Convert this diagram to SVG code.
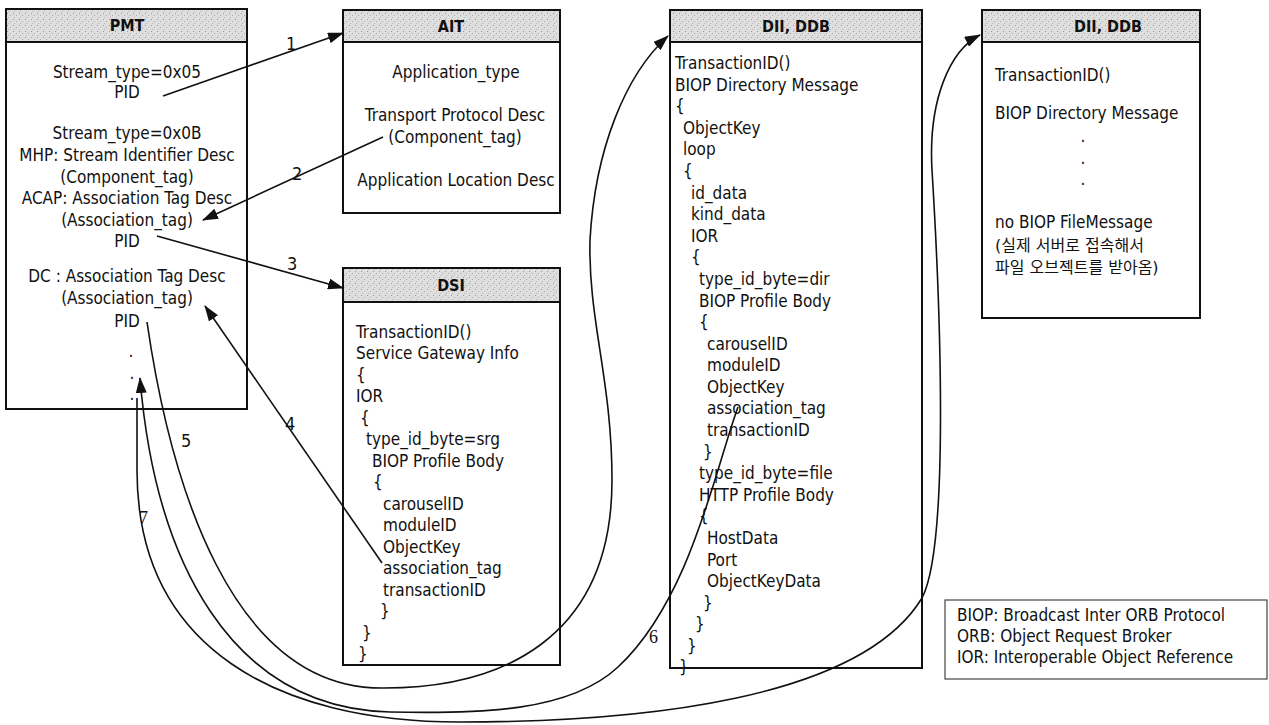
<svg xmlns="http://www.w3.org/2000/svg" width="1269" height="725" viewBox="0 0 1269 725">
<style>
text{font-family:"DejaVu Sans Condensed","DejaVu Sans",sans-serif;font-stretch:condensed;font-size:17px;fill:#111}
.c{text-anchor:middle}
.h{font-weight:bold;font-size:16px;text-anchor:middle}
.box{fill:#fff;stroke:#111;stroke-width:2}
.hdr{fill:url(#stip);stroke:#111;stroke-width:2}
.ln{fill:none;stroke:#111;stroke-width:1.6}
.lbl{font-family:"Liberation Serif",serif;font-size:18px}
.lbs{font-size:18px}
.kr{font-family:"DejaVu Sans","Noto Sans CJK KR",sans-serif;font-stretch:normal;font-size:16px}
.leg{fill:#fff;stroke:#444;stroke-width:1.2}
</style>
<defs>
<pattern id="stip" width="6" height="6" patternUnits="userSpaceOnUse">
<rect width="6" height="6" fill="#dedede"/>
<rect x="1" y="1" width="1" height="1" fill="#9a9a9a"/>
<rect x="4" y="3" width="1" height="1" fill="#aaaaaa"/>
<rect x="2" y="5" width="1" height="1" fill="#b5b5b5"/>
</pattern>
<marker id="ah" viewBox="0 0 16 11" refX="15" refY="5.5" markerWidth="16" markerHeight="11" markerUnits="userSpaceOnUse" orient="auto">
<path d="M0,0 L16,5.5 L0,11 z" fill="#111"/>
</marker>
</defs>

<g id="pmt">
<rect class="box" x="6" y="9" width="241" height="400"/>
<rect class="hdr" x="6" y="9" width="241" height="33"/>
<text class="h" x="127" y="31">PMT</text>
<text class="c" x="127" y="78">Stream_type=0x05</text>
<text class="c" x="127" y="98">PID</text>
<text class="c" x="127" y="139">Stream_type=0x0B</text>
<text class="c" x="127" y="161">MHP: Stream Identifier Desc</text>
<text class="c" x="127" y="183">(Component_tag)</text>
<text class="c" x="127" y="204">ACAP: Association Tag Desc</text>
<text class="c" x="127" y="226">(Association_tag)</text>
<text class="c" x="127" y="247">PID</text>
<text class="c" x="127" y="282">DC : Association Tag Desc</text>
<text class="c" x="127" y="304">(Association_tag)</text>
<text class="c" x="127" y="327">PID</text>
<text class="c" x="131" y="357">.</text>
<text class="c" x="132" y="379">.</text>
<text class="c" x="132" y="400">.</text>
</g>

<g id="ait">
<rect class="box" x="343" y="10" width="217" height="203"/>
<rect class="hdr" x="343" y="10" width="217" height="32"/>
<text class="h" x="451" y="32">AIT</text>
<text class="c" x="456" y="78">Application_type</text>
<text class="c" x="455" y="121">Transport Protocol Desc</text>
<text class="c" x="455" y="143">(Component_tag)</text>
<text class="c" x="456" y="186">Application Location Desc</text>
</g>

<g id="dsi">
<rect class="box" x="343" y="268" width="217" height="397"/>
<rect class="hdr" x="343" y="268" width="217" height="34"/>
<text class="h" x="451" y="291">DSI</text>
<text x="356" y="338">TransactionID()</text>
<text x="356" y="359">Service Gateway Info</text>
<text x="356" y="381">{</text>
<text x="356" y="402">IOR</text>
<text x="360" y="424">{</text>
<text x="366" y="445">type_id_byte=srg</text>
<text x="372" y="467">BIOP Profile Body</text>
<text x="373" y="488">{</text>
<text x="383" y="510">carouselID</text>
<text x="383" y="531">moduleID</text>
<text x="383" y="553">ObjectKey</text>
<text x="383" y="574">association_tag</text>
<text x="383" y="596">transactionID</text>
<text x="380" y="617">}</text>
<text x="362" y="639">}</text>
<text x="358" y="660">}</text>
</g>

<g id="dii1">
<rect class="box" x="670" y="10" width="252" height="658"/>
<rect class="hdr" x="670" y="10" width="252" height="32"/>
<text class="h" x="796" y="32">DII, DDB</text>
<text x="675" y="69">TransactionID()</text>
<text x="675" y="91">BIOP Directory Message</text>
<text x="675" y="112">{</text>
<text x="683" y="134">ObjectKey</text>
<text x="683" y="155">loop</text>
<text x="683" y="177">{</text>
<text x="691" y="199">id_data</text>
<text x="691" y="220">kind_data</text>
<text x="691" y="242">IOR</text>
<text x="691" y="263">{</text>
<text x="699" y="285">type_id_byte=dir</text>
<text x="699" y="307">BIOP Profile Body</text>
<text x="699" y="328">{</text>
<text x="707" y="350">carouselID</text>
<text x="707" y="371">moduleID</text>
<text x="707" y="393">ObjectKey</text>
<text x="707" y="414">association_tag</text>
<text x="707" y="436">transactionID</text>
<text x="703" y="458">}</text>
<text x="699" y="479">type_id_byte=file</text>
<text x="699" y="501">HTTP Profile Body</text>
<text x="699" y="522">{</text>
<text x="707" y="544">HostData</text>
<text x="707" y="566">Port</text>
<text x="707" y="587">ObjectKeyData</text>
<text x="703" y="609">}</text>
<text x="695" y="630">}</text>
<text x="687" y="652">}</text>
<text x="679" y="673">}</text>
</g>

<g id="dii2">
<rect class="box" x="982" y="10" width="218" height="308"/>
<rect class="hdr" x="982" y="10" width="218" height="32"/>
<text class="h" x="1108" y="32">DII, DDB</text>
<text x="995" y="81">TransactionID()</text>
<text x="995" y="119">BIOP Directory Message</text>
<text class="c" x="1083" y="142">.</text>
<text class="c" x="1083" y="164">.</text>
<text class="c" x="1083" y="185">.</text>
<text x="995" y="228">no BIOP FileMessage</text>
<text class="kr" x="995" y="251">(실제 서버로 접속해서</text>
<text class="kr" x="995" y="273">파일 오브젝트를 받아옴)</text>
</g>

<g id="legend">
<rect class="leg" x="945" y="600" width="322" height="79"/>
<text x="957" y="621">BIOP: Broadcast Inter ORB Protocol</text>
<text x="957" y="642">ORB: Object Request Broker</text>
<text x="957" y="663">IOR: Interoperable Object Reference</text>
</g>

<g id="connectors">
<path class="ln" d="M163,96 L343,33" marker-end="url(#ah)"/>
<path class="ln" d="M383,137 L203,220" marker-end="url(#ah)"/>
<path class="ln" d="M157,236 L343,288" marker-end="url(#ah)"/>
<path class="ln" d="M382,563 L205,306" marker-end="url(#ah)"/>
<path class="ln" d="M147,322 C170,480 230,690 384,688 C500,688 612,640 612,480 C612,380 588,320 590,240 C595,150 625,75 668,36" marker-end="url(#ah)"/>
<path class="ln" d="M738,407 C715,470 690,600 618,667 C570,712 480,714 390,712 C230,708 155,560 140,378" marker-end="url(#ah)"/>
<path class="ln" d="M137,398 L137,470 C137,650 280,722 460,722 C640,722 860,700 922,598 C950,545 940,300 932,170 C928,100 950,50 980,35" marker-end="url(#ah)"/>
<text class="lbs" x="286" y="50">1</text>
<text class="lbs" x="292" y="180">2</text>
<text class="lbs" x="287" y="270">3</text>
<text class="lbs" x="285" y="430">4</text>
<text class="lbs" x="181" y="447">5</text>
<text class="lbl" x="649" y="643">6</text>
<text class="lbl" x="139" y="524">7</text>
</g>
</svg>
